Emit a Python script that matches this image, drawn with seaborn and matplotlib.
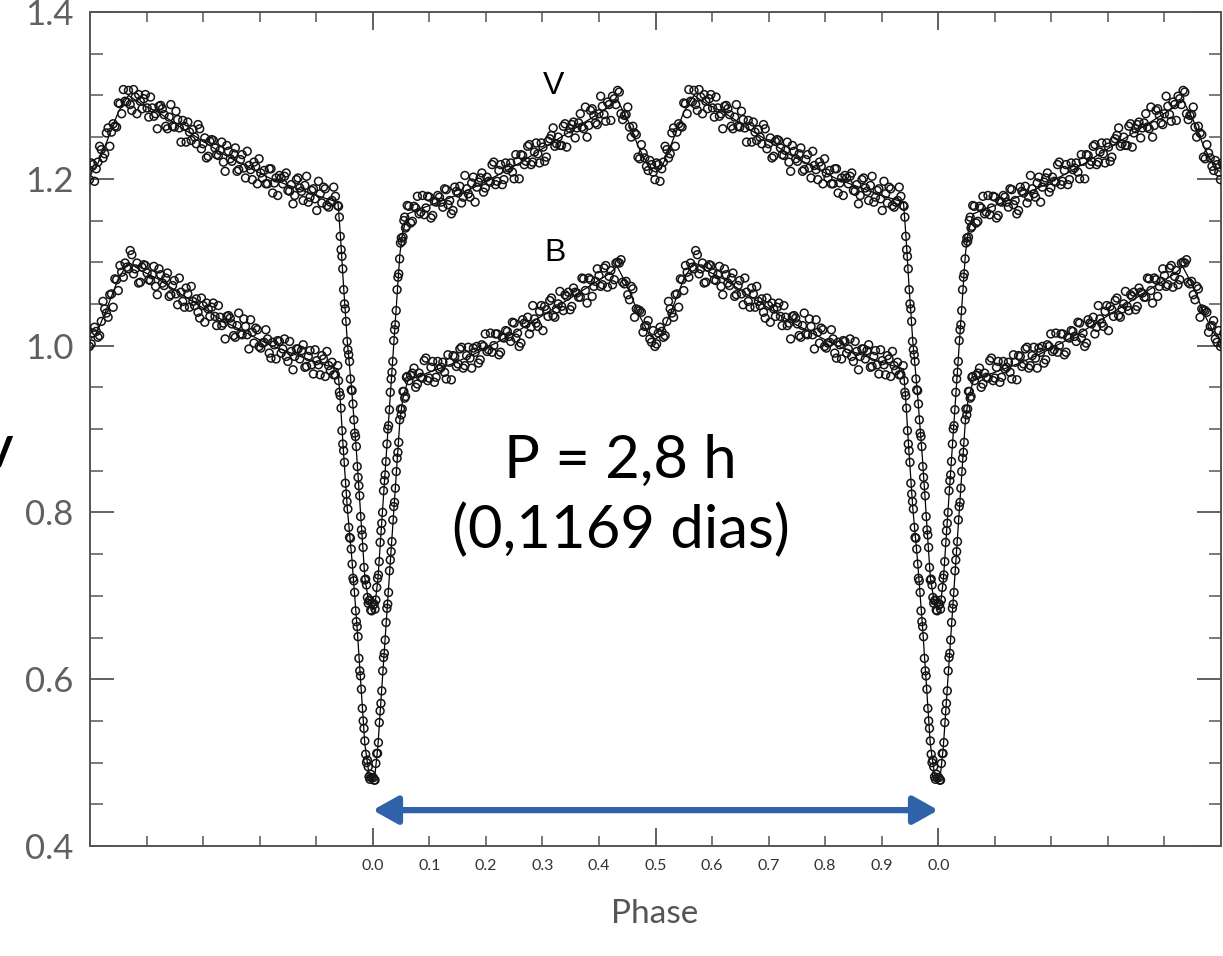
import numpy as np
import pandas as pd
import matplotlib
matplotlib.use("Agg")
import matplotlib.pyplot as plt
import seaborn as sns
from matplotlib.ticker import FixedLocator, FixedFormatter, NullFormatter

# ---------------- data (one orbital cycle, phase 0..1) ----------------
MODEL_PHASE = [0.000, 0.004, 0.009, 0.022, 0.034, 0.048, 0.053, 0.062, 0.080, 0.100,
               0.140, 0.180, 0.220, 0.260, 0.300, 0.340, 0.380, 0.420, 0.432, 0.450,
               0.470, 0.490, 0.500, 0.510, 0.530, 0.550, 0.568, 0.590, 0.620, 0.660,
               0.700, 0.740, 0.780, 0.820, 0.860, 0.900, 0.9385, 0.943, 0.948, 0.955,
               0.963, 0.972, 0.981, 0.986, 0.993, 1.000]
MODEL_V = [0.683, 0.690, 0.719, 0.850, 0.970, 1.110, 1.136, 1.158, 1.163, 1.168,
           1.178, 1.190, 1.204, 1.219, 1.236, 1.253, 1.270, 1.287, 1.295, 1.272,
           1.238, 1.212, 1.208, 1.212, 1.245, 1.280, 1.300, 1.290, 1.280, 1.262,
           1.245, 1.228, 1.214, 1.200, 1.190, 1.180, 1.172, 1.130, 1.075, 1.005,
           0.945, 0.865, 0.773, 0.722, 0.692, 0.683]
MODEL_B = [0.478, 0.486, 0.519, 0.650, 0.770, 0.910, 0.936, 0.958, 0.963, 0.968,
           0.978, 0.990, 1.004, 1.019, 1.036, 1.053, 1.070, 1.087, 1.095, 1.072,
           1.038, 1.012, 1.008, 1.012, 1.045, 1.080, 1.100, 1.090, 1.080, 1.062,
           1.045, 1.028, 1.014, 1.000, 0.990, 0.980, 0.972, 0.930, 0.875, 0.805,
           0.745, 0.665, 0.573, 0.522, 0.488, 0.478]

# first observing run
OBS_PHASE = [
    0.001, 0.004, 0.007, 0.010, 0.013, 0.016, 0.019, 0.022, 0.025, 0.028,
    0.031, 0.034, 0.037, 0.040, 0.043, 0.046, 0.049, 0.052, 0.055, 0.058, 0.061,
    0.064, 0.070, 0.076, 0.082, 0.088, 0.094, 0.100, 0.106, 0.112, 0.118,
    0.124, 0.130, 0.136, 0.142, 0.148, 0.154, 0.160, 0.166, 0.172, 0.178,
    0.184, 0.190, 0.196, 0.202, 0.208, 0.214, 0.220, 0.226, 0.232, 0.238,
    0.244, 0.250, 0.256, 0.262, 0.268, 0.274, 0.280, 0.286, 0.292, 0.298,
    0.304, 0.310, 0.316, 0.322, 0.328, 0.334, 0.340, 0.346, 0.352, 0.358,
    0.364, 0.370, 0.376, 0.382, 0.388, 0.394, 0.400, 0.406, 0.412, 0.418,
    0.424, 0.430, 0.436, 0.442, 0.448, 0.454, 0.460, 0.466, 0.472, 0.478,
    0.484, 0.490, 0.496, 0.502, 0.508, 0.514, 0.520, 0.526, 0.532, 0.538,
    0.544, 0.550, 0.556, 0.562, 0.568, 0.574, 0.580, 0.586, 0.592, 0.598,
    0.604, 0.610, 0.616, 0.622, 0.628, 0.634, 0.640, 0.646, 0.652, 0.658,
    0.664, 0.670, 0.676, 0.682, 0.688, 0.694, 0.700, 0.706, 0.712, 0.718,
    0.724, 0.730, 0.736, 0.742, 0.748, 0.754, 0.760, 0.766, 0.772, 0.778,
    0.784, 0.790, 0.796, 0.802, 0.808, 0.814, 0.820, 0.826, 0.832, 0.838,
    0.844, 0.850, 0.856, 0.862, 0.868, 0.874, 0.880, 0.886, 0.892, 0.898,
    0.904, 0.910, 0.916, 0.922, 0.928, 0.934,
    0.938, 0.941, 0.944, 0.947, 0.950, 0.953, 0.956, 0.959, 0.962, 0.965,
    0.968, 0.971, 0.974, 0.977, 0.980, 0.983, 0.986, 0.989, 0.992, 0.995, 0.998]

OBS_V = [
    0.689, 0.684, 0.710, 0.725, 0.764, 0.787, 0.826, 0.845, 0.882, 0.904,
    0.944, 0.968, 1.006, 1.025, 1.067, 1.086, 1.123, 1.125, 1.150, 1.141, 1.168,
    1.167, 1.149, 1.165, 1.158, 1.180, 1.165, 1.178, 1.156, 1.172, 1.178,
    1.166, 1.187, 1.174, 1.162, 1.185, 1.191, 1.178, 1.188, 1.178, 1.202,
    1.190, 1.201, 1.184, 1.202, 1.196, 1.220, 1.197, 1.217, 1.199, 1.211,
    1.219, 1.200, 1.221, 1.229, 1.217, 1.239, 1.217, 1.232, 1.230, 1.243,
    1.221, 1.245, 1.252, 1.239, 1.250, 1.240, 1.266, 1.255, 1.265, 1.249,
    1.267, 1.262, 1.286, 1.264, 1.284, 1.267, 1.278, 1.287, 1.269, 1.289,
    1.299, 1.289, 1.304, 1.271, 1.277, 1.262, 1.263, 1.253, 1.224, 1.231,
    1.215, 1.222, 1.208, 1.219, 1.197, 1.220, 1.235, 1.230, 1.261, 1.256,
    1.263, 1.291, 1.278, 1.293, 1.306, 1.282, 1.298, 1.301, 1.284, 1.301,
    1.274, 1.285, 1.278, 1.287, 1.284, 1.263, 1.274, 1.263, 1.281, 1.261,
    1.270, 1.244, 1.256, 1.259, 1.242, 1.260, 1.242, 1.225, 1.245, 1.246,
    1.229, 1.234, 1.220, 1.240, 1.224, 1.230, 1.209, 1.223, 1.213, 1.233,
    1.211, 1.220, 1.194, 1.207, 1.210, 1.194, 1.212, 1.195, 1.180, 1.201,
    1.203, 1.186, 1.193, 1.180, 1.201, 1.185, 1.192, 1.172, 1.186, 1.176,
    1.197, 1.171, 1.188, 1.166, 1.174, 1.179,
    1.168, 1.154, 1.115, 1.092, 1.050, 1.029, 0.995, 0.981, 0.947, 0.930,
    0.895, 0.879, 0.842, 0.820, 0.779, 0.758, 0.719, 0.713, 0.691, 0.695, 0.682]

OBS_B = [
    0.482, 0.479, 0.511, 0.524, 0.562, 0.586, 0.626, 0.647, 0.685, 0.704,
    0.743, 0.765, 0.807, 0.829, 0.865, 0.884, 0.924, 0.924, 0.945, 0.939, 0.963,
    0.958, 0.967, 0.950, 0.967, 0.961, 0.985, 0.961, 0.981, 0.962, 0.972,
    0.980, 0.960, 0.980, 0.988, 0.975, 0.996, 0.973, 0.988, 0.985, 0.997,
    0.999, 0.983, 0.999, 0.993, 1.015, 1.000, 1.014, 0.992, 1.009, 1.017,
    1.005, 1.027, 1.015, 1.003, 1.027, 1.034, 1.022, 1.032, 1.023, 1.048,
    1.047, 1.035, 1.057, 1.034, 1.050, 1.047, 1.061, 1.064, 1.047, 1.064,
    1.058, 1.081, 1.066, 1.081, 1.059, 1.077, 1.084, 1.073, 1.096, 1.083,
    1.073, 1.099, 1.099, 1.076, 1.077, 1.055, 1.068, 1.044, 1.042, 1.016,
    1.024, 1.008, 1.018, 1.002, 1.022, 1.010, 1.029, 1.044, 1.034, 1.062,
    1.080, 1.066, 1.088, 1.099, 1.092, 1.109, 1.092, 1.075, 1.094, 1.096,
    1.079, 1.085, 1.071, 1.092, 1.075, 1.081, 1.059, 1.072, 1.062, 1.081,
    1.053, 1.069, 1.046, 1.053, 1.056, 1.033, 1.048, 1.051, 1.035, 1.051,
    1.024, 1.034, 1.027, 1.035, 1.033, 1.012, 1.024, 1.014, 1.032, 1.013,
    1.031, 1.003, 1.019, 0.997, 1.004, 1.008, 0.985, 1.001, 1.006, 0.991,
    1.008, 0.981, 0.993, 0.987, 0.996, 0.994, 0.974, 0.987, 0.977, 0.995,
    0.977, 0.988, 0.963, 0.976, 0.980, 0.965,
    0.976, 0.944, 0.925, 0.882, 0.860, 0.822, 0.804, 0.770, 0.756, 0.721,
    0.704, 0.669, 0.651, 0.610, 0.588, 0.550, 0.526, 0.500, 0.495, 0.480, 0.482]

# second observing run
OBS2_PHASE = [
    0.0025, 0.0055, 0.0085, 0.0115, 0.0145, 0.0175, 0.0205, 0.0235, 0.0265, 0.0295,
    0.0325, 0.0355, 0.0385, 0.0415, 0.0445, 0.0475, 0.0505, 0.0535, 0.0565, 0.0595,
    0.067, 0.073, 0.079, 0.085, 0.091, 0.097, 0.103, 0.109, 0.115, 0.121,
    0.127, 0.133, 0.139, 0.145, 0.151, 0.157, 0.163, 0.169, 0.175, 0.181,
    0.187, 0.193, 0.199, 0.205, 0.211, 0.217, 0.223, 0.229, 0.235, 0.241,
    0.247, 0.253, 0.259, 0.265, 0.271, 0.277, 0.283, 0.289, 0.295, 0.301,
    0.307, 0.313, 0.319, 0.325, 0.331, 0.337, 0.343, 0.349, 0.355, 0.361,
    0.367, 0.373, 0.379, 0.385, 0.391, 0.397, 0.403, 0.409, 0.415, 0.421,
    0.427, 0.433, 0.439, 0.445, 0.451, 0.457, 0.463, 0.469, 0.475, 0.481,
    0.487, 0.493, 0.499, 0.505, 0.511, 0.517, 0.523, 0.529, 0.535, 0.541,
    0.547, 0.553, 0.559, 0.565, 0.571, 0.577, 0.583, 0.589, 0.595, 0.601,
    0.607, 0.613, 0.619, 0.625, 0.631, 0.637, 0.643, 0.649, 0.655, 0.661,
    0.667, 0.673, 0.679, 0.685, 0.691, 0.697, 0.703, 0.709, 0.715, 0.721,
    0.727, 0.733, 0.739, 0.745, 0.751, 0.757, 0.763, 0.769, 0.775, 0.781,
    0.787, 0.793, 0.799, 0.805, 0.811, 0.817, 0.823, 0.829, 0.835, 0.841,
    0.847, 0.853, 0.859, 0.865, 0.871, 0.877, 0.883, 0.889, 0.895, 0.901,
    0.907, 0.913, 0.919, 0.925, 0.931,
    0.9395, 0.9425, 0.9455, 0.9485, 0.9515, 0.9545, 0.9575, 0.9605, 0.9635, 0.9665,
    0.9695, 0.9725, 0.9755, 0.9785, 0.9815, 0.9845, 0.9875, 0.9905, 0.9935, 0.9965]

OBS2_V = [
    0.690, 0.695, 0.721, 0.741, 0.778, 0.800, 0.838, 0.861, 0.900, 0.923,
    0.960, 0.981, 1.019, 1.042, 1.082, 1.104, 1.129, 1.130, 1.154, 1.143,
    1.147, 1.167, 1.179, 1.160, 1.157, 1.179, 1.153, 1.173, 1.180, 1.172,
    1.188, 1.169, 1.158, 1.190, 1.183, 1.171, 1.204, 1.182, 1.195, 1.172,
    1.196, 1.207, 1.189, 1.197, 1.217, 1.193, 1.210, 1.193, 1.219, 1.213,
    1.208, 1.229, 1.200, 1.228, 1.221, 1.241, 1.220, 1.243, 1.219, 1.238,
    1.226, 1.248, 1.261, 1.242, 1.240, 1.263, 1.238, 1.260, 1.268, 1.261,
    1.278, 1.260, 1.250, 1.282, 1.276, 1.265, 1.299, 1.277, 1.292, 1.270,
    1.296, 1.306, 1.278, 1.276, 1.286, 1.250, 1.255, 1.226, 1.241, 1.225,
    1.210, 1.217, 1.199, 1.217, 1.212, 1.239, 1.225, 1.255, 1.239, 1.266,
    1.262, 1.290, 1.307, 1.292, 1.289, 1.307, 1.278, 1.293, 1.296, 1.285,
    1.298, 1.275, 1.260, 1.288, 1.277, 1.260, 1.289, 1.262, 1.271, 1.244,
    1.263, 1.268, 1.246, 1.250, 1.265, 1.236, 1.249, 1.227, 1.247, 1.237,
    1.228, 1.244, 1.209, 1.233, 1.221, 1.237, 1.211, 1.229, 1.201, 1.216,
    1.199, 1.215, 1.224, 1.201, 1.194, 1.212, 1.183, 1.201, 1.204, 1.194,
    1.207, 1.185, 1.170, 1.199, 1.189, 1.174, 1.203, 1.178, 1.188, 1.162,
    1.182, 1.190, 1.168, 1.172, 1.190,
    1.167, 1.131, 1.107, 1.067, 1.044, 1.005, 0.989, 0.960, 0.946, 0.911,
    0.891, 0.855, 0.832, 0.795, 0.773, 0.734, 0.720, 0.698, 0.694, 0.683]

OBS2_B = [
    0.479, 0.499, 0.511, 0.548, 0.571, 0.610, 0.631, 0.668, 0.690, 0.730,
    0.753, 0.791, 0.812, 0.849, 0.872, 0.911, 0.917, 0.945, 0.937, 0.962,
    0.964, 0.973, 0.954, 0.962, 0.982, 0.958, 0.974, 0.956, 0.981, 0.974,
    0.968, 0.989, 0.959, 0.987, 0.978, 0.998, 0.976, 0.998, 0.973, 0.992,
    0.979, 1.001, 1.014, 0.995, 0.992, 1.014, 0.989, 1.010, 1.018, 1.011,
    1.028, 1.009, 0.999, 1.031, 1.026, 1.014, 1.048, 1.027, 1.041, 1.018,
    1.043, 1.054, 1.036, 1.044, 1.065, 1.042, 1.059, 1.043, 1.069, 1.063,
    1.058, 1.080, 1.051, 1.079, 1.071, 1.092, 1.071, 1.093, 1.070, 1.090,
    1.079, 1.100, 1.103, 1.074, 1.061, 1.071, 1.034, 1.043, 1.040, 1.023,
    1.030, 1.004, 0.999, 1.015, 1.017, 1.012, 1.053, 1.039, 1.061, 1.046,
    1.079, 1.096, 1.082, 1.094, 1.114, 1.086, 1.099, 1.076, 1.097, 1.087,
    1.078, 1.095, 1.061, 1.085, 1.072, 1.087, 1.061, 1.078, 1.049, 1.064,
    1.046, 1.062, 1.071, 1.048, 1.040, 1.057, 1.028, 1.044, 1.046, 1.035,
    1.048, 1.024, 1.008, 1.036, 1.026, 1.010, 1.039, 1.013, 1.023, 0.996,
    1.016, 1.021, 0.999, 1.003, 1.019, 0.991, 1.004, 0.984, 1.005, 0.996,
    0.987, 1.005, 0.971, 0.996, 0.984, 1.001, 0.975, 0.994, 0.966, 0.982,
    0.965, 0.984, 0.993, 0.970, 0.965,
    0.958, 0.940, 0.898, 0.874, 0.835, 0.813, 0.782, 0.769, 0.738, 0.718,
    0.682, 0.663, 0.625, 0.604, 0.565, 0.541, 0.510, 0.503, 0.483, 0.486]

BANDS = ["V", "B"]
XTICK_MAJOR = [0.0, 0.5, 1.0]
XTICK_MAJOR_LABELS = ["0.0", "0.5", "0.0"]
XTICK_MINOR = [0.1, 0.2, 0.3, 0.4, 0.6, 0.7, 0.8, 0.9]
XTICK_MINOR_LABELS = ["0.1", "0.2", "0.3", "0.4", "0.6", "0.7", "0.8", "0.9"]
YTICKS = [0.4, 0.6, 0.8, 1.0, 1.2, 1.4]
YTICK_LABELS = ["0.4", "0.6", "0.8", "1.0", "1.2", "1.4"]
XLABEL = "Phase"
PERIOD_TEXT = "P = 2,8 h\n(0,1169 dias)"
X_RANGE = (-0.5, 1.5)
Y_RANGE = (0.4, 1.4)

# ---------------- build tidy tables (phase-folded, shown over two cycles) ----------------
def folded(phases, values, band):
    rows = []
    for shift in (-1, 0, 1):
        for p, v in zip(phases, values):
            rows.append({"phase": p + shift, "flux": v, "band": band})
    return pd.DataFrame(rows)

obs = pd.concat([folded(OBS_PHASE, OBS_V, "V"), folded(OBS_PHASE, OBS_B, "B"),
                 folded(OBS2_PHASE, OBS2_V, "V"), folded(OBS2_PHASE, OBS2_B, "B")])
model = pd.concat([folded(MODEL_PHASE, MODEL_V, "V"), folded(MODEL_PHASE, MODEL_B, "B")])

sns.set_style("white")
plt.rcParams["font.family"] = ["Lato", "DejaVu Sans"]

fig = plt.figure(figsize=(12.23, 9.56), dpi=100)
ax = fig.add_axes([90 / 1223, 1 - 846 / 956, 1131 / 1223, 834 / 956])

for band in BANDS:
    sub = model[model["band"] == band]
    sns.lineplot(data=sub, x="phase", y="flux", ax=ax, color="black", lw=0.9,
                 estimator=None, sort=False, legend=False, zorder=2)
sns.scatterplot(data=obs, x="phase", y="flux", ax=ax, s=32, marker="o",
                facecolor="none", edgecolor="#151515", linewidth=1.1,
                legend=False, zorder=3)

ax.set_xlim(*X_RANGE)
ax.set_ylim(*Y_RANGE)
ax.set_xlabel("")
ax.set_ylabel("")

spine_col = "#555555"
for s in ax.spines.values():
    s.set_color(spine_col)
    s.set_linewidth(1.4)
    s.set_visible(True)

ax.xaxis.set_major_locator(FixedLocator(XTICK_MAJOR))
ax.xaxis.set_major_formatter(FixedFormatter(XTICK_MAJOR_LABELS))
ax.xaxis.set_minor_locator(FixedLocator([-0.4, -0.3, -0.2, -0.1] + XTICK_MINOR +
                                        [1.1, 1.2, 1.3, 1.4]))
ax.xaxis.set_minor_formatter(FixedFormatter(["", "", "", ""] + XTICK_MINOR_LABELS +
                                            ["", "", "", ""]))
ax.yaxis.set_major_locator(FixedLocator(YTICKS))
ax.yaxis.set_major_formatter(FixedFormatter(YTICK_LABELS))
ax.yaxis.set_minor_locator(FixedLocator([0.45, 0.5, 0.55, 0.65, 0.7, 0.75, 0.85, 0.9, 0.95,
                                         1.05, 1.1, 1.15, 1.25, 1.3, 1.35]))
ax.yaxis.set_minor_formatter(NullFormatter())

ax.tick_params(axis="x", which="both", direction="in", top=True, bottom=True,
               color=spine_col, labelcolor="#333333", labelsize=11.5, pad=9)
ax.tick_params(axis="x", which="major", length=13, width=1.3)
ax.tick_params(axis="x", which="minor", length=7, width=1.1)
ax.tick_params(axis="y", which="both", direction="in", left=True, right=True,
               color=spine_col, labelcolor="#606060", labelsize=25, pad=12)
ax.tick_params(axis="y", which="major", length=17, width=1.3)
ax.tick_params(axis="y", which="minor", length=9, width=1.1)

# band labels
ax.text(0.319, 1.311, BANDS[0], ha="center", va="center", fontsize=23,
        family="Liberation Sans", color="black")
ax.text(0.322, 1.111, BANDS[1], ha="center", va="center", fontsize=23,
        family="Liberation Sans", color="black")

# period annotation
ax.text(0.438, 0.820, PERIOD_TEXT, ha="center", va="center", fontsize=43,
        color="black", linespacing=1.32)
ax.annotate("", xy=(0.0, 0.443), xytext=(1.0, 0.443),
            arrowprops=dict(arrowstyle="<|-|>,head_length=0.75,head_width=0.42",
                            mutation_scale=20, color="#2F62A8", lw=4.5,
                            shrinkA=0, shrinkB=0))

fig.text(655 / 1223, 1 - 914 / 956, XLABEL, ha="center", va="center", fontsize=24,
         color="#555555")
# partially cut-off letter at the left edge
fig.text(12 / 1223, 1 - 455 / 956, "V", ha="right", va="center", fontsize=30,
         fontweight="bold", color="black")

fig.savefig("out.png", dpi=100)
